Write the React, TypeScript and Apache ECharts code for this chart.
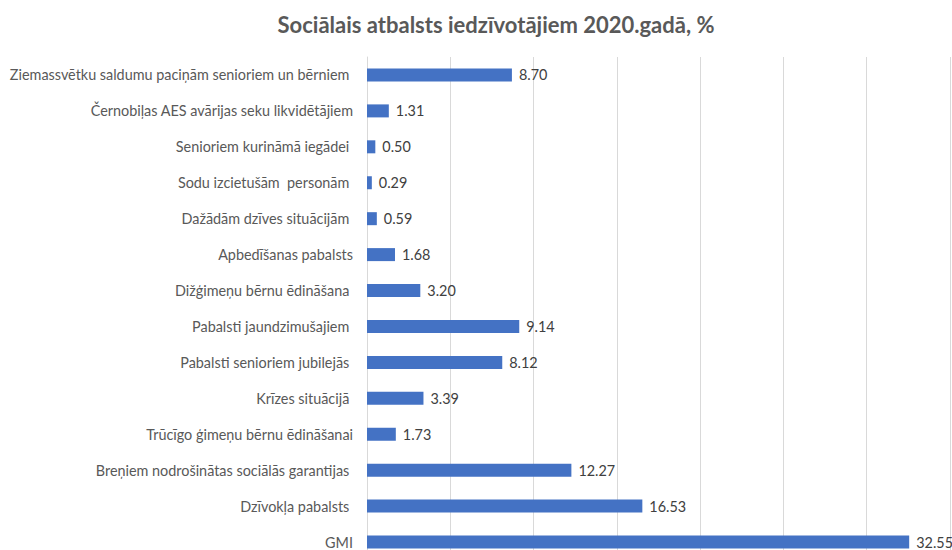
import React, { useEffect, useRef } from "react";
import * as echarts from "echarts";

const categories: string[] = [
  "Ziemassvētku saldumu paciņām senioriem un bērniem ",
  "Černobiļas AES avārijas seku likvidētājiem",
  "Senioriem kurināmā iegādei ",
  "Sodu izcietušām  personām ",
  "Dažādām dzīves situācijām ",
  "Apbedīšanas pabalsts",
  "Dižģimeņu bērnu ēdināšana ",
  "Pabalsti jaundzimušajiem ",
  "Pabalsti senioriem jubilejās ",
  "Krīzes situācijā ",
  "Trūcīgo ģimeņu bērnu ēdināšanai",
  "Breņiem nodrošinātas sociālās garantijas ",
  "Dzīvokļa pabalsts ",
  "GMI",
];

const values: number[] = [8.7, 1.31, 0.5, 0.29, 0.59, 1.68, 3.2, 9.14, 8.12, 3.39, 1.73, 12.27, 16.53, 32.55];

const titleText = "Sociālais atbalsts iedzīvotājiem 2020.gadā, %";

export default function App() {
  const ref = useRef<HTMLDivElement>(null);
  useEffect(() => {
    if (!ref.current) return;
    const chart = echarts.init(ref.current, undefined, { renderer: "svg" });
    chart.setOption({
      animation: false,
      backgroundColor: "#ffffff",
      title: {
        text: titleText,
        left: 491,
        top: 8,
        textAlign: "center",
        textStyle: {
          fontFamily: "Lato",
          fontWeight: "bold",
          fontSize: 22,
          color: "#595959",
        },
      },
      grid: { left: 367, right: 2, top: 57, height: 503, containLabel: false },
      xAxis: {
        type: "value",
        min: 0,
        max: 35,
        interval: 5,
        axisLabel: { show: false },
        axisLine: { show: false },
        axisTick: { show: false },
        splitLine: { show: true, lineStyle: { color: "#d9d9d9", width: 1 } },
      },
      yAxis: {
        type: "category",
        inverse: true,
        data: categories,
        axisTick: { show: false },
        axisLine: { show: true, lineStyle: { color: "#d9d9d9", width: 1 } },
        axisLabel: {
          margin: 14,
          color: "#595959",
          fontFamily: "Lato",
          fontSize: 14.4,
        },
      },
      series: [
        {
          type: "bar",
          data: values,
          barWidth: 13,
          itemStyle: { color: "#4472C4" },
          label: {
            show: true,
            position: "right",
            distance: 7,
            color: "#404040",
            fontFamily: "Lato",
            fontSize: 14.4,
            formatter: (p: any) => Number(p.value).toFixed(2),
          },
        },
      ],
    });
    return () => chart.dispose();
  }, []);
  return (
    <div
      style={{
        position: "fixed",
        left: 0,
        top: 0,
        width: 952,
        height: 550,
        overflow: "hidden",
        background: "#ffffff",
      }}
    >
      <div ref={ref} style={{ width: 952, height: 580 }} />
    </div>
  );
}
